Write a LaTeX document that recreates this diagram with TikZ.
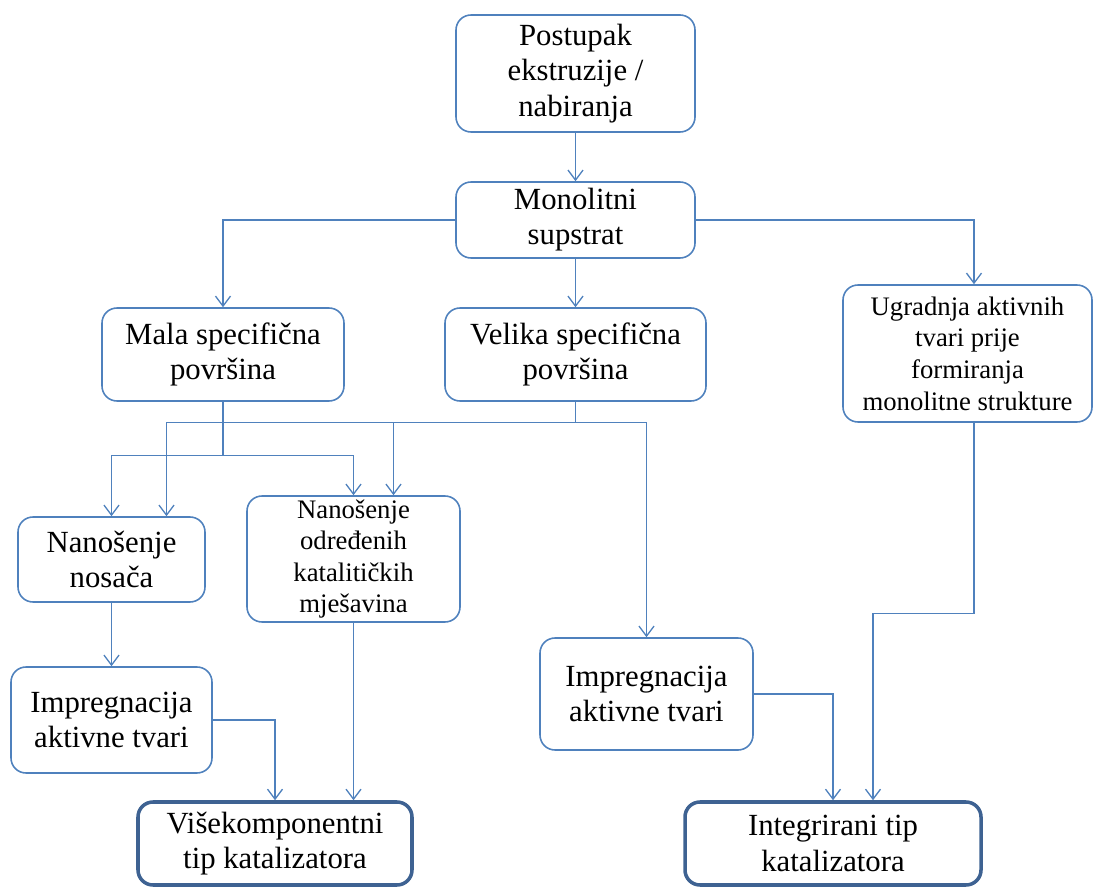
\documentclass[tikz,border=0pt]{standalone}
\usepackage{fontspec}
\setmainfont{Liberation Serif}
\usetikzlibrary{arrows.meta}
\definecolor{boxblue}{RGB}{79,129,189}
\definecolor{darkblue}{RGB}{62,98,146}

\begin{document}
\begin{tikzpicture}[
    box/.style={draw=boxblue,line width=0.9pt,rounded corners=0.3cm,align=center,inner sep=0pt,font=\fontsize{17.5}{20}\selectfont},
    smallbox/.style={box,font=\fontsize{15.2}{18}\selectfont},
    endbox/.style={box,draw=darkblue,line width=2pt},
    arr/.style={boxblue,line width=0.75pt,-{Straight Barb[length=2mm,width=3mm]}}
]
    \useasboundingbox (0,0) rectangle (21.88,-17.76);
    \node[box,minimum width=4.78cm,minimum height=2.34cm] (post) at (11.51,-1.47) {Postupak\\ekstruzije /\\nabiranja};
    \node[box,minimum width=4.78cm,minimum height=1.52cm] (mono) at (11.51,-4.40) {Monolitni\\supstrat};
    \node[box,minimum width=4.84cm,minimum height=1.86cm] (mala) at (4.46,-7.09) {Mala specifična\\površina};
    \node[box,minimum width=5.22cm,minimum height=1.86cm] (vel) at (11.51,-7.09) {Velika specifična\\površina};
    \node[smallbox,minimum width=4.98cm,minimum height=2.74cm] (ugr) at (19.35,-7.07) {Ugradnja aktivnih\\tvari prije\\formiranja\\monolitne strukture};
    \node[box,minimum width=3.74cm,minimum height=1.70cm] (nos) at (2.23,-11.19) {Nanošenje\\nosača};
    \node[smallbox,minimum width=4.26cm,minimum height=2.52cm] (odr) at (7.07,-11.18) {Nanošenje\\određenih\\katalitičkih\\mješavina};
    \node[box,minimum width=4.02cm,minimum height=2.12cm] (impL) at (2.23,-14.40) {Impregnacija\\aktivne tvari};
    \node[box,minimum width=4.26cm,minimum height=2.24cm] (impR) at (12.93,-13.88) {Impregnacija\\aktivne tvari};
    \node[endbox,minimum width=5.48cm,minimum height=1.66cm] (vise) at (5.50,-16.87) {Višekomponentni\\tip katalizatora};
    \node[endbox,minimum width=5.92cm,minimum height=1.66cm] (integ) at (16.66,-16.87) {Integrirani tip\\katalizatora};
    \coordinate (vb) at ([yshift=-0.42cm]vel.south);
    \coordinate (mb) at ([yshift=-1.08cm]mala.south);
    \coordinate (ub) at ([xshift=0.13cm,yshift=-3.82cm]ugr.south);
    \draw[arr] (post) -- (mono);
    \draw[arr] (mono) -- (vel);
    \draw[arr] (mono.west) -| (mala.north);
    \draw[arr] (mono.east) -| ([xshift=0.13cm]ugr.north);
    \draw[arr] (vel.south) -- (vb) -| ([xshift=1.1cm]nos.north);
    \draw[arr] (vb) -| ([xshift=0.8cm]odr.north);
    \draw[arr] (vb) -| (impR.north);
    \draw[arr] (mala.south) -- (mb) -| (nos.north);
    \draw[arr] (mb) -| (odr.north);
    \draw[arr] (nos) -- (impL);
    \draw[arr] (impL.east) -| (vise.north);
    \draw[arr] (odr.south) -- (odr.south |- vise.north);
    \draw[arr] (impR.east) -| (integ.north);
    \draw[arr] ([xshift=0.13cm]ugr.south) -- (ub) -| ([xshift=0.8cm]integ.north);
\end{tikzpicture}
\end{document}
